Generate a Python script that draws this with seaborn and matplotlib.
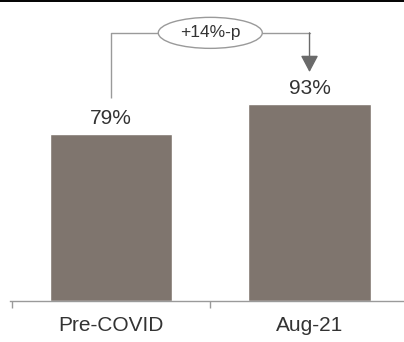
import matplotlib
matplotlib.use("Agg")
import matplotlib.pyplot as plt
from matplotlib.lines import Line2D
from matplotlib.patches import Ellipse
import seaborn as sns
import pandas as pd

periods = ["Pre-COVID", "Aug-21"]
shares = [79, 93]
change_label = "+14%-p"

bar_color = "#7f756e"
text_color = "#333333"
line_color = "#9a9a9a"

sns.set_theme(style="white")
plt.rcParams["font.family"] = ["Liberation Sans", "DejaVu Sans"]

W, H = 404, 342
fig = plt.figure(figsize=(W / 100, H / 100), dpi=100)
ax = fig.add_axes([10 / W, 41 / H, 394 / W, 301 / H])

df = pd.DataFrame({"period": periods, "share": shares})
sns.barplot(data=df, x="period", y="share", color=bar_color, saturation=1,
            width=0.615, ax=ax)

ax.set_xlim(-0.509, 1.476)
ax.set_ylim(0, 142)
ax.set_xlabel("")
ax.set_ylabel("")
ax.set_yticks([])

for side in ("top", "right", "left"):
    ax.spines[side].set_visible(False)
ax.spines["bottom"].set_color(line_color)
ax.spines["bottom"].set_linewidth(1.0)

# category labels without marks; small separators between categories
ax.tick_params(axis="x", which="major", length=0, pad=11,
               labelsize=15, labelcolor=text_color)
ax.set_xticks([-0.5, 0.5], minor=True)
ax.tick_params(axis="x", which="minor", bottom=True, length=5, width=1.0,
               color=line_color, direction="out")

# value labels above each bar
ax.bar_label(ax.containers[0], labels=[f"{v}%" for v in shares],
             padding=4, fontsize=15, color=text_color)

# bracket showing the change between the two bars
y_bracket = 126.5
left_bottom = shares[0] + 17
arrow_tip = shares[1] + 15
ellipse_x = 0.5
ell_w = 104 / 198.5
ell_h = 31 / 2.12
ax.plot([0, 0], [left_bottom, y_bracket], color=line_color, lw=1.0,
        solid_capstyle="butt")
ax.plot([0, ellipse_x - ell_w / 2], [y_bracket, y_bracket],
        color=line_color, lw=1.0)
ax.plot([ellipse_x + ell_w / 2, 1], [y_bracket, y_bracket],
        color=line_color, lw=1.0)
ax.annotate("", xy=(1, arrow_tip), xytext=(1, y_bracket),
            arrowprops=dict(arrowstyle="-|>,head_length=0.85,head_width=0.45",
                            color="#6a6a6a", lw=1.0, shrinkA=0, shrinkB=0))
ax.add_patch(Ellipse((ellipse_x, y_bracket), ell_w, ell_h, facecolor="white",
                     edgecolor=line_color, lw=1.0, zorder=3))
ax.text(ellipse_x, y_bracket, change_label, ha="center", va="center",
        fontsize=12.5, color=text_color, zorder=4)

# thin rule along the top edge
fig.add_artist(Line2D([0, 1], [1 - 0.8 / H, 1 - 0.8 / H], color="black",
                      lw=1.4, transform=fig.transFigure))

fig.savefig("out.png", dpi=100)
